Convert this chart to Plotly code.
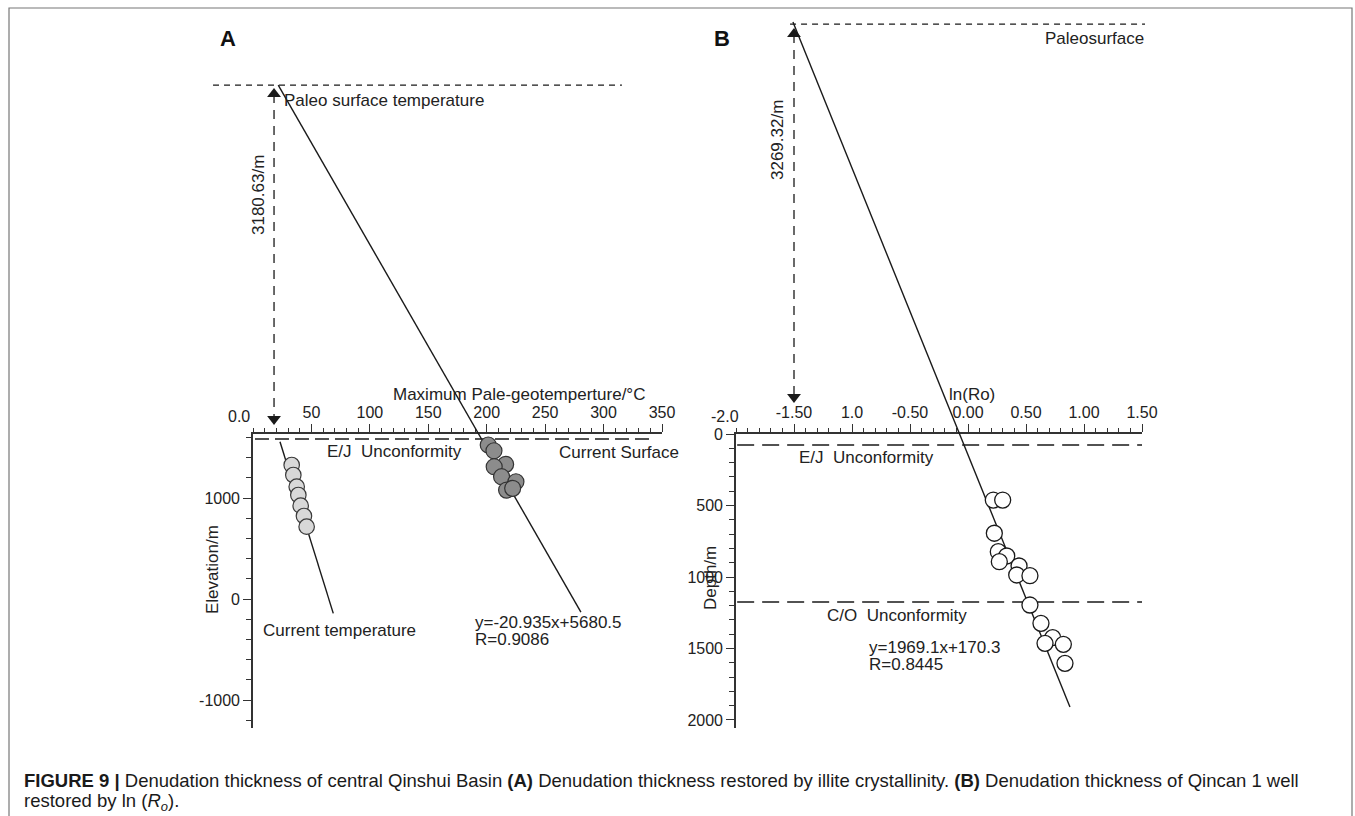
import plotly.graph_objects as go

W, H = 1355, 816

# ---------------- Panel A data (illite crystallinity) ----------------
a_x_ticks = [0, 50, 100, 150, 200, 250, 300, 350]
a_x_ticktext = ["", "50", "100", "150", "200", "250", "300", "350"]
a_y_ticks = [-1000, 0, 1000]
a_y_ticktext = ["-1000", "0", "1000"]

a_current_temp = [33.1, 34.5, 37.4, 38.8, 40.8, 43.6, 45.9]
a_current_elev = [1327, 1228, 1112, 1030, 924, 822, 716]
a_paleo_temp = [201.3, 206.2, 216.2, 206.4, 212.7, 225.0, 217.0, 222.2]
a_paleo_elev = [1525, 1468, 1334, 1310, 1211, 1161, 1079, 1096]

a_current_fit_temp = [23.1, 68.7]
a_current_fit_elev = [1557, -142]
a_paleo_fit_temp = [21.6, 280.6]
a_paleo_fit_elev = [5089, -129]

a_paleo_surface_temp = [-34.2, 315.7]
a_paleo_surface_elev = [5089, 5089]
a_current_surface_temp = [1.7, 343.9]
a_current_surface_elev = [1584, 1584]
a_arrow_temp = [18, 18]
a_arrow_elev = [5000, 1783]

# ---------------- Panel B data (ln Ro) ----------------
b_x_ticks = [-2.0, -1.5, -1.0, -0.5, 0.0, 0.5, 1.0, 1.5]
b_x_ticktext = ["", "-1.50", "1.0", "-0.50", "0.00", "0.50", "1.00", "1.50"]
b_y_ticks = [0, 500, 1000, 1500, 2000]
b_y_ticktext = ["0", "500", "1000", "1500", "2000"]

b_ln_ro = [0.218, 0.299, 0.227, 0.261, 0.334, 0.270, 0.440, 0.420, 0.534,
           0.534, 0.629, 0.730, 0.664, 0.822, 0.836]
b_depth = [462, 462, 694, 823, 853, 893, 923, 986, 991,
           1196, 1324, 1424, 1464, 1471, 1604]

b_fit_ln = [-1.509, 0.879]
b_fit_depth = [-2881, 1909]
b_paleo_surface_ln = [-1.534, 1.526]
b_paleo_surface_depth = [-2867, -2867]
b_ej_ln = [-1.99, 1.5]
b_ej_depth = [77, 77]
b_co_ln = [-1.99, 1.5]
b_co_depth = [1175, 1175]
b_arrow_ln = [-1.5, -1.5]
b_arrow_depth = [-2797, -259]

# ---------------- geometry helpers ----------------
FONT = "Liberation Sans, Arial, Helvetica, sans-serif"
TXT = "#222222"
AX = "#333333"
TICK_SIZE = 16
LABEL_SIZE = 17


def px(x):
    return x / W


def py(y):
    return 1 - y / H


def full_range(p0, p1, v0, v1, total):
    """extend linear mapping pixel->value (p0->v0, p1->v1) to [0,total]"""
    s = (v1 - v0) / (p1 - p0)
    return [v0 + (0 - p0) * s, v0 + (total - p0) * s]


# visible axes boxes (pixels) and ranges
A_X = (253, 662, 0, 350)          # left px, right px, value at left, value at right
A_Y = (434, 728, 1634, -1277)     # top px, bottom px, value at top, value at bottom
B_X = (736, 1142, -2.0, 1.5)
B_Y = (434, 728, 0, 2056)

fig = go.Figure()


def vis_xaxis(box, ticks, ticktext, minor_vals, anchor):
    return dict(domain=[px(box[0]), px(box[1])], range=[box[2], box[3]],
                anchor=anchor, side="top", showline=True, linecolor=AX, linewidth=1.6,
                ticks="outside", ticklen=8, tickwidth=1.4, tickcolor=AX,
                tickvals=ticks, ticktext=ticktext, showgrid=False, zeroline=False,
                tickfont=dict(family=FONT, size=TICK_SIZE, color=TXT),
                minor=dict(tickvals=minor_vals, ticks="outside", ticklen=4,
                           tickwidth=1.2, tickcolor=AX, showgrid=False),
                fixedrange=True)


def vis_yaxis(box, ticks, ticktext, minor_vals, anchor):
    return dict(domain=[py(box[1]), py(box[0])], range=[box[3], box[2]],
                anchor=anchor, side="left", showline=True, linecolor=AX, linewidth=1.6,
                ticks="outside", ticklen=8, tickwidth=1.4, tickcolor=AX,
                tickvals=ticks, ticktext=ticktext, showgrid=False, zeroline=False,
                tickfont=dict(family=FONT, size=TICK_SIZE, color=TXT),
                minor=dict(tickvals=minor_vals, ticks="outside", ticklen=5,
                           tickwidth=1.2, tickcolor=AX, showgrid=False),
                fixedrange=True)


def data_xaxis(box, anchor):
    return dict(domain=[0, 1], range=full_range(box[0], box[1], box[2], box[3], W),
                anchor=anchor, visible=False, fixedrange=True)


def data_yaxis(box, anchor):
    r = full_range(box[0], box[1], box[2], box[3], H)  # value at top px0, bottom pxH
    return dict(domain=[0, 1], range=[r[1], r[0]], anchor=anchor, visible=False,
                fixedrange=True)


a_minor_x = list(range(0, 351, 10))
a_minor_y = list(range(-1200, 1601, 200))
b_minor_x = [round(-2.0 + 0.1 * i, 2) for i in range(36)]
b_minor_y = list(range(0, 2001, 100))

fig.update_layout(
    xaxis=vis_xaxis(A_X, a_x_ticks, a_x_ticktext, a_minor_x, "y"),
    yaxis=vis_yaxis(A_Y, a_y_ticks, a_y_ticktext, a_minor_y, "x"),
    xaxis2=data_xaxis(A_X, "y2"),
    yaxis2=data_yaxis(A_Y, "x2"),
    xaxis3=vis_xaxis(B_X, b_x_ticks, b_x_ticktext, b_minor_x, "y3"),
    yaxis3=vis_yaxis(B_Y, b_y_ticks, b_y_ticktext, b_minor_y, "x3"),
    xaxis4=data_xaxis(B_X, "y4"),
    yaxis4=data_yaxis(B_Y, "x4"),
)

# empty traces so that the visible axis subplots are created
fig.add_trace(go.Scatter(x=[], y=[], xaxis="x", yaxis="y", showlegend=False))
fig.add_trace(go.Scatter(x=[], y=[], xaxis="x3", yaxis="y3", showlegend=False))


def line(x, y, xa, ya, dash="solid", width=1.4, color="#1a1a1a"):
    fig.add_trace(go.Scatter(x=x, y=y, xaxis=xa, yaxis=ya, mode="lines",
                             line=dict(color=color, width=width, dash=dash),
                             hoverinfo="skip", showlegend=False))


def arrow(x, y, xa, ya):
    fig.add_trace(go.Scatter(x=x, y=y, xaxis=xa, yaxis=ya, mode="lines+markers",
                             line=dict(color="#1a1a1a", width=1.3, dash="9px,7px"),
                             marker=dict(symbol=["triangle-up", "triangle-down"], size=12,
                                         color="#1a1a1a", line=dict(width=0)),
                             hoverinfo="skip", showlegend=False))


# ----- Panel A marks -----
line(a_paleo_surface_temp, a_paleo_surface_elev, "x2", "y2", dash="6px,5px", width=1.3)
line(a_current_surface_temp, a_current_surface_elev, "x2", "y2", dash="14px,6px", width=1.5)
arrow(a_arrow_temp, a_arrow_elev, "x2", "y2")
line(a_paleo_fit_temp, a_paleo_fit_elev, "x2", "y2")
line(a_current_fit_temp, a_current_fit_elev, "x2", "y2")
fig.add_trace(go.Scatter(x=a_current_temp, y=a_current_elev, xaxis="x2", yaxis="y2",
                         mode="markers", showlegend=False,
                         marker=dict(size=15.5, color="#d8d8d8",
                                     line=dict(color="#3a3a3a", width=1.2))))
fig.add_trace(go.Scatter(x=a_paleo_temp, y=a_paleo_elev, xaxis="x2", yaxis="y2",
                         mode="markers", showlegend=False,
                         marker=dict(size=16, color="#8c8c8c",
                                     line=dict(color="#333333", width=1.2))))

# ----- Panel B marks -----
line(b_paleo_surface_ln, b_paleo_surface_depth, "x4", "y4", dash="6px,5px", width=1.3)
line(b_ej_ln, b_ej_depth, "x4", "y4", dash="17px,8px", width=1.5)
line(b_co_ln, b_co_depth, "x4", "y4", dash="17px,8px", width=1.5)
arrow(b_arrow_ln, b_arrow_depth, "x4", "y4")
line(b_fit_ln, b_fit_depth, "x4", "y4")
fig.add_trace(go.Scatter(x=b_ln_ro, y=b_depth, xaxis="x4", yaxis="y4",
                         mode="markers", showlegend=False,
                         marker=dict(size=16, color="white",
                                     line=dict(color="#1a1a1a", width=1.3))))

# ----- text -----
ann = []


def text(x, y, s, size=LABEL_SIZE, xanchor="left", angle=0, color=TXT, family=FONT):
    ann.append(dict(x=px(x), y=py(y), xref="paper", yref="paper", text=s,
                    showarrow=False, xanchor=xanchor, yanchor="middle", textangle=angle,
                    font=dict(family=family, size=size, color=color)))


text(218, 38, "<b>A</b>", size=22, color="#111111")
text(712, 38, "<b>B</b>", size=22, color="#111111")

text(282, 100, "Paleo surface temperature")
text(258, 195, "3180.63/m", xanchor="center", angle=-90)
text(519, 394, "Maximum Pale-geotemperture/°C", xanchor="center")
text(239, 417, "0.0", size=TICK_SIZE, xanchor="center")
text(325, 451, "E/J  Unconformity")
text(681, 452, "Current Surface", xanchor="right")
text(212, 570, "Elevation/m", xanchor="center", angle=-90)
text(261, 630, "Current temperature")
text(473, 622, "y=-20.935x+5680.5")
text(473, 639, "R=0.9086")

text(1146, 38, "Paleosurface", xanchor="right")
text(777, 140, "3269.32/m", xanchor="center", angle=-90)
text(972, 394, "ln(Ro)", xanchor="center")
text(725, 417, "-2.0", size=TICK_SIZE, xanchor="center")
text(797, 457, "E/J  Unconformity")
text(710, 578, "Depth/m", xanchor="center", angle=-90)
text(825, 615, "C/O  Unconformity")
text(867, 647, "y=1969.1x+170.3")
text(867, 664, "R=0.8445")

CAP = "Liberation Sans, Arial, sans-serif"
text(22, 780, "<b>FIGURE 9 |</b> Denudation thickness of central Qinshui Basin <b>(A)</b> "
     "Denudation thickness restored by illite crystallinity. <b>(B)</b> Denudation "
     "thickness of Qincan 1 well", size=18.5, color="#1a1a1a", family=CAP)
text(22, 802, "restored by ln (<i>R<sub>o</sub></i>).", size=18.5, color="#1a1a1a", family=CAP)

fig.update_layout(
    annotations=ann,
    width=W, height=H,
    margin=dict(l=0, r=0, t=0, b=0, autoexpand=False),
    paper_bgcolor="white",
    plot_bgcolor="rgba(0,0,0,0)",
    showlegend=False,
    shapes=[dict(type="rect", xref="paper", yref="paper",
                 x0=px(9), x1=px(1352), y0=py(830), y1=py(8),
                 line=dict(color="#777777", width=1.2), fillcolor="rgba(0,0,0,0)")],
)

fig.write_html("out.html", config={"displayModeBar": False},
               post_script="document.body.style.margin='0';document.body.style.overflow='hidden';")
